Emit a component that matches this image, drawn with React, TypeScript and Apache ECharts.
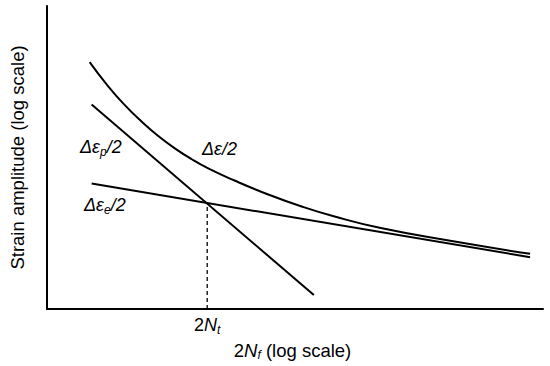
import React, { useEffect, useRef } from "react";
import * as echarts from "echarts";

// Normalised log-log coordinates (0..100 on each axis)
const elasticX = [9.0, 97.4];
const elasticY = [41.4, 17.1];
const plasticX = [9.0, 53.8];
const plasticY = [67.5, 4.6];
const totalX = [8.6, 12.1, 15.5, 19.1, 22.5, 25.7, 29.1, 32.5, 37.8, 44.6, 51.2, 57.8, 67.3, 81.3, 97.4];
const totalY = [81.5, 74.0, 67.6, 61.8, 57.0, 53.1, 49.5, 46.4, 42.4, 37.8, 33.9, 30.6, 26.7, 22.5, 18.2];
const transitionX = 32.3;
const transitionY = 34.8;

const FONT = "'Liberation Sans', Arial, sans-serif";

const zip = (xs: number[], ys: number[]) => xs.map((x, i) => [x, ys[i]]);

export default function App() {
  const ref = useRef<HTMLDivElement>(null);
  useEffect(() => {
    if (!ref.current) return;
    const chart = echarts.init(ref.current, null, { renderer: "svg" });
    const italic = { fontStyle: "italic", fontSize: 18, fontFamily: FONT, color: "#000" };
    const sub = { fontStyle: "italic", fontSize: 12, fontFamily: FONT, color: "#000", padding: [10, 0, 0, 0] };
    const normal = { fontSize: 18, fontFamily: FONT, color: "#000" };
    const lineStyle = { color: "#000", width: 2 };
    chart.setOption({
      animation: false,
      backgroundColor: "#fff",
      grid: { left: 45, right: 7, top: 6, bottom: 57 },
      xAxis: {
        type: "value",
        min: 0,
        max: 100,
        axisLine: { show: true, lineStyle: { color: "#000", width: 2 } },
        axisTick: { show: false },
        axisLabel: { show: false },
        splitLine: { show: false },
        name: "2{n|N}{s|f} (log scale)",
        nameLocation: "middle",
        nameGap: 30,
        nameTextStyle: {
          fontSize: 18.5,
          fontFamily: FONT,
          color: "#000",
          padding: [0, 5, 0, 0],
          rich: {
            n: { fontStyle: "italic", fontSize: 18.5, fontFamily: FONT, color: "#000" },
            s: { fontStyle: "italic", fontSize: 12, fontFamily: FONT, color: "#000", padding: [10, 0, 0, 0] },
          },
        },
      },
      yAxis: {
        type: "value",
        min: 0,
        max: 100,
        axisLine: { show: true, lineStyle: { color: "#000", width: 2 } },
        axisTick: { show: false },
        axisLabel: { show: false },
        splitLine: { show: false },
        name: "Strain amplitude (log scale)",
        nameLocation: "middle",
        nameGap: 20,
        nameTextStyle: { fontSize: 18.5, fontFamily: FONT, color: "#000" },
      },
      series: [
        {
          type: "line",
          data: zip(elasticX, elasticY),
          symbol: "none",
          lineStyle,
        },
        {
          type: "line",
          data: zip(plasticX, plasticY),
          symbol: "none",
          lineStyle,
        },
        {
          type: "line",
          data: zip(totalX, totalY),
          symbol: "none",
          smooth: 0.5,
          lineStyle,
        },
        {
          type: "line",
          data: [
            [transitionX, 0],
            [transitionX, transitionY],
          ],
          symbol: "none",
          lineStyle: { color: "#000", width: 1.3, type: [4, 3] },
        },
      ],
      graphic: [
        {
          type: "text",
          left: 80,
          top: 138,
          style: {
            text: "{i|Δε}{s|p}{n|/2}",
            rich: { i: italic, s: sub, n: italic },
          },
        },
        {
          type: "text",
          left: 202,
          top: 140,
          style: {
            text: "{i|Δε}{n|/2}",
            rich: { i: italic, n: italic },
          },
        },
        {
          type: "text",
          left: 84,
          top: 196,
          style: {
            text: "{i|Δε}{s|e}{n|/2}",
            rich: { i: italic, s: sub, n: italic },
          },
        },
        {
          type: "text",
          left: 194,
          top: 316,
          style: {
            text: "{n|2}{i|N}{s|t}",
            rich: {
              n: normal,
              i: italic,
              s: sub,
            },
          },
        },
      ],
    });
    return () => chart.dispose();
  }, []);
  return (
    <div
      ref={ref}
      style={{ position: "absolute", left: 0, top: 0, width: 550, height: 366 }}
    />
  );
}
